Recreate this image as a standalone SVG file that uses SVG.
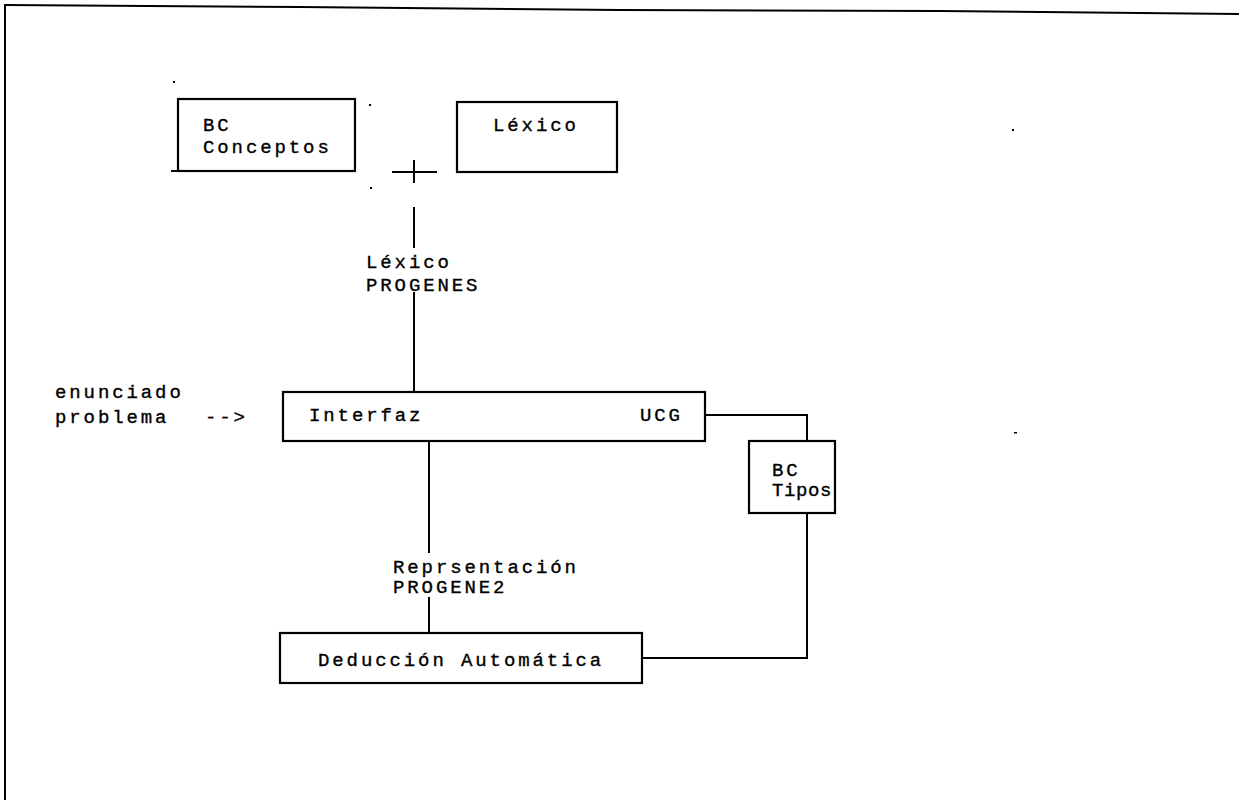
<svg xmlns="http://www.w3.org/2000/svg" width="1239" height="800" viewBox="0 0 1239 800">
<style>
.box{fill:none;stroke:#000;stroke-width:2.2}
.ln{fill:none;stroke:#000;stroke-width:2}
text{font-family:"Liberation Mono","DejaVu Sans Mono",monospace;font-size:19px;letter-spacing:2.9px;fill:#000;stroke:#000;stroke-width:0.35}
</style>
<rect width="1239" height="800" fill="#fff"/>
<g id="frame">
<polyline class="ln" stroke-width="3" points="4,5 300,7 620,10 940,11 1239,14"/>
<line class="ln" stroke-width="2.5" x1="5" y1="5" x2="5" y2="800"/>
</g>
<g id="specks" fill="#000">
<rect x="173" y="81" width="2" height="2"/>
<rect x="369" y="104" width="2" height="2"/>
<rect x="370" y="187" width="2" height="2"/>
<rect x="1012" y="129" width="2" height="2"/>
<rect x="1014" y="432" width="3" height="1.5"/>
</g>
<g id="bc-conceptos">
<rect class="box" x="178" y="99" width="177" height="72"/>
<line class="ln" x1="171" y1="171" x2="178" y2="171"/>
<text x="203" y="131">BC</text>
<text x="203" y="153">Conceptos</text>
</g>
<g id="lexico">
<rect class="box" x="457" y="102" width="160" height="70"/>
<text x="493" y="131">Léxico</text>
</g>
<g id="interfaz">
<rect class="box" x="283" y="392" width="422" height="49"/>
<text x="309" y="421">Interfaz</text>
<text x="640" y="421">UCG</text>
</g>
<g id="bc-tipos">
<rect class="box" x="749" y="441" width="86" height="72"/>
<text x="772" y="476">BC</text>
<text x="772" y="496" style="letter-spacing:0.6px">Tipos</text>
</g>
<g id="deduccion">
<rect class="box" x="280" y="633" width="362" height="50"/>
<text x="318" y="666">Deducción Automática</text>
</g>
<g id="input-label">
<text x="55" y="398">enunciado</text>
<text x="55" y="423">problema</text>
<text x="205" y="423">--&gt;</text>
</g>
<g id="connectors">
<line class="ln" x1="392" y1="172" x2="437" y2="172"/>
<line class="ln" x1="414" y1="160" x2="414" y2="183"/>
<line class="ln" x1="414" y1="207" x2="414" y2="248"/>
<line class="ln" x1="414" y1="292" x2="414" y2="392"/>
<line class="ln" x1="429" y1="441" x2="429" y2="553"/>
<line class="ln" x1="429" y1="597" x2="429" y2="633"/>
<polyline class="ln" points="705,415 807,415 807,441"/>
<polyline class="ln" points="807,513 807,658 642,658"/>
</g>
<g id="connector-labels">
<text x="366" y="268">Léxico</text>
<text x="366" y="291">PROGENES</text>
<text x="393" y="573">Reprsentación</text>
<text x="393" y="593">PROGENE2</text>
</g>
</svg>
